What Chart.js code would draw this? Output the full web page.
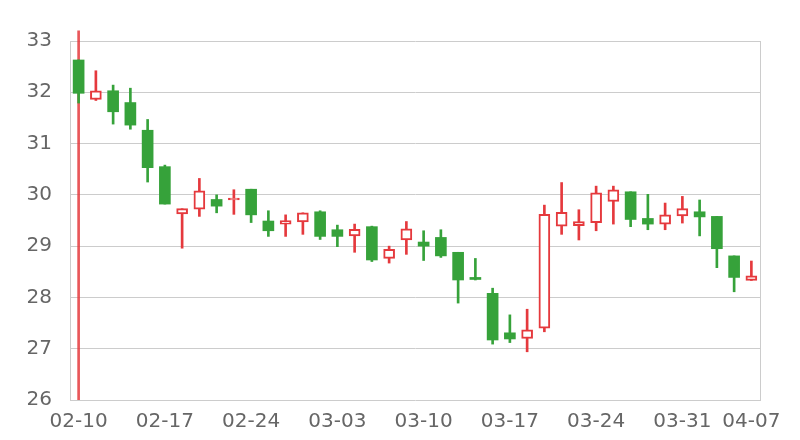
<!DOCTYPE html>
<html>
<head>
<meta charset="utf-8">
<script src="https://cdn.jsdelivr.net/npm/chart.js@4/dist/chart.umd.min.js"></script>
<style>
  html, body { margin: 0; padding: 0; background: #fff; }
  #wrap { width: 800px; height: 440px; }
</style>
</head>
<body>
<div id="wrap"><canvas id="myChart" width="800" height="440"></canvas></div>
<script>
const dates = [
  '02-10','02-11','02-12','02-13','02-14',
  '02-17','02-18','02-19','02-20','02-21',
  '02-24','02-25','02-26','02-27','02-28',
  '03-03','03-04','03-05','03-06','03-07',
  '03-10','03-11','03-12','03-13','03-14',
  '03-17','03-18','03-19','03-20','03-21',
  '03-24','03-25','03-26','03-27','03-28',
  '03-31','04-01','04-02','04-03','04-07'
];
const opens = [
  32.63, 31.86, 32.03, 31.80, 31.26,
  30.55, 29.63, 29.72, 29.91, 29.90,
  30.11, 29.49, 29.43, 29.47, 29.67,
  29.32, 29.20, 29.38, 28.76, 29.12,
  29.08, 29.17, 28.88, 28.39, 28.08,
  27.31, 27.20, 27.40, 29.39, 29.40,
  29.46, 29.87, 30.06, 29.54, 29.43,
  29.59, 29.67, 29.58, 28.81, 28.33
];
const closes = [
  31.98, 32.03, 31.62, 31.36, 30.53,
  29.82, 29.73, 30.08, 29.78, 29.93,
  29.61, 29.30, 29.50, 29.65, 29.19,
  29.19, 29.33, 28.73, 28.94, 29.34,
  29.00, 28.81, 28.34, 28.35, 27.17,
  27.19, 27.37, 29.62, 29.66, 29.48,
  30.04, 30.10, 29.52, 29.43, 29.61,
  29.73, 29.57, 28.95, 28.39, 28.42
];
const highs = [
  32.63, 32.42, 32.14, 32.08, 31.47,
  30.58, 29.73, 30.32, 30.00, 30.10,
  30.11, 29.69, 29.61, 29.65, 29.69,
  29.41, 29.43, 29.39, 29.00, 29.48,
  29.30, 29.32, 28.88, 28.76, 28.18,
  27.66, 27.77, 29.80, 30.24, 29.71,
  30.17, 30.17, 30.06, 30.01, 29.84,
  29.97, 29.90, 29.58, 28.81, 28.71
];
const lows = [
  31.79, 31.84, 31.38, 31.28, 30.25,
  29.82, 28.96, 29.58, 29.65, 29.62,
  29.46, 29.19, 29.19, 29.23, 29.13,
  28.99, 28.88, 28.70, 28.67, 28.84,
  28.72, 28.78, 27.89, 28.34, 27.09,
  27.12, 26.94, 27.33, 29.23, 29.12,
  29.30, 29.43, 29.38, 29.32, 29.32,
  29.45, 29.20, 28.58, 28.11, 28.33
];
// red vertical spike drawn at the first trading day
const spikeRange = [26, 33.2];
const yTicks = [26, 27, 28, 29, 30, 31, 32, 33];

const upColor = '#e5393d';
const downColor = '#36a23a';
const gridColor = '#cccccc';
const textColor = '#666666';

const isUp = opens.map((o, i) => closes[i] >= o);
const bodies = opens.map((o, i) => [o, closes[i]]);
const wicks = lows.map((l, i) => [l, highs[i]]);
const spike = dates.map((d, i) => i === 0 ? spikeRange : null);

const ctx = document.getElementById('myChart').getContext('2d');
new Chart(ctx, {
  type: 'bar',
  data: {
    labels: dates,
    datasets: [
      {
        label: 'body',
        data: bodies,
        grouped: false,
        order: 1,
        barThickness: 11,
        backgroundColor: isUp.map(u => u ? '#ffffff' : downColor),
        borderColor: isUp.map(u => u ? upColor : downColor),
        borderWidth: isUp.map(u => u ? 2 : 0),
        borderSkipped: false,
        minBarLength: 2
      },
      {
        label: 'wick',
        data: wicks,
        grouped: false,
        order: 2,
        barThickness: 2,
        backgroundColor: isUp.map(u => u ? upColor : downColor),
        borderWidth: 0
      },
      {
        label: 'spike',
        data: spike,
        grouped: false,
        order: 3,
        barThickness: 2,
        backgroundColor: 'rgba(229,57,61,0.85)',
        borderWidth: 0,
        clip: { left: 0, top: 12, right: 0, bottom: 0 }
      }
    ]
  },
  options: {
    responsive: false,
    animation: false,
    layout: { padding: { top: 41, left: 0, right: 0, bottom: 0 } },
    plugins: {
      legend: { display: false },
      tooltip: { enabled: false }
    },
    scales: {
      x: {
        offset: true,
        grid: { display: false, drawTicks: false },
        border: { display: false },
        ticks: {
          autoSkip: false,
          maxRotation: 0,
          padding: 10,
          color: textColor,
          font: { family: 'DejaVu Sans', size: 20 },
          callback: function(v, i) {
            return (i % 5 === 0 || i === dates.length - 1) ? dates[i] : '';
          }
        },
        afterFit: s => { s.height = 40; }
      },
      y: {
        min: 26,
        max: 33,
        afterBuildTicks: s => { s.ticks = yTicks.map(v => ({ value: v })); },
        grid: { color: gridColor, drawTicks: false },
        border: { color: gridColor },
        ticks: {
          padding: 18,
          color: textColor,
          font: { family: 'DejaVu Sans', size: 20 }
        },
        afterFit: s => { s.width = 70; }
      },
      y2: {
        position: 'right',
        min: 26,
        max: 33,
        grid: { drawOnChartArea: false, drawTicks: false },
        border: { color: gridColor },
        ticks: { display: false },
        afterFit: s => { s.width = 40; }
      }
    }
  }
});
</script>
</body>
</html>
